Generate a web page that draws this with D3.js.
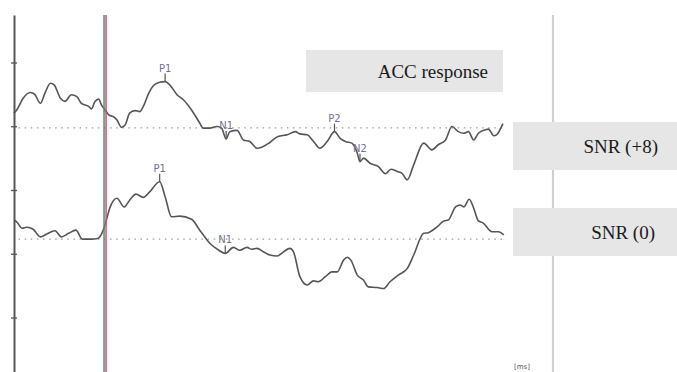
<!DOCTYPE html>
<html><head><meta charset="utf-8">
<script src="https://cdn.jsdelivr.net/npm/d3@7"></script>
<style>html,body{margin:0;padding:0;background:#fff;overflow:hidden;} svg{display:block;}</style>
</head><body>
<script>
// time in ms, amplitude in µV relative to each trace's own baseline
const topTimes = [-100,-97,-90,-82,-77,-71,-66,-60,-56,-49,-44,-37,-31,-26,-18,-15,-11,-7,-4,0,4,9,13,18,22,27,33,38,42,48,53,59,66,71,79,86,95,103,108,115,123,128,133,137,145,152,159,167,172,181,190,200,209,214,222,229,236,244,252,258,264,271,277,280,284,291,300,308,314,321,326,332,339,350,359,366,374,381,388,394,399,405,410,418,421,427,430,437];
const topValues = [0.46,0.56,0.93,1.11,1.04,0.77,1.09,1.40,1.35,0.93,0.83,1.04,0.98,0.77,0.67,0.59,0.83,0.90,0.72,0.56,0.41,0.35,0.25,0.02,0.09,0.46,0.54,0.51,0.67,1.09,1.32,1.42,1.45,1.35,1.04,0.88,0.56,0.20,-0.01,-0.01,0.04,-0.01,-0.35,-0.12,-0.08,-0.38,-0.43,-0.64,-0.61,-0.46,-0.27,-0.22,-0.12,-0.19,-0.22,-0.43,-0.64,-0.43,-0.12,-0.32,-0.43,-0.48,-0.79,-1.06,-0.95,-1.11,-1.21,-1.44,-1.30,-1.37,-1.42,-1.63,-1.16,-0.48,-0.69,-0.53,-0.38,0.04,-0.12,-0.17,-0.12,-0.38,-0.17,-0.06,-0.04,-0.25,-0.22,0.13];
const bottomTimes = [-100,-97,-91,-86,-79,-71,-64,-55,-48,-40,-32,-25,-16,-8,-2,2,5,13,21,27,34,42,49,60,66,73,82,95,104,115,125,132,141,148,156,161,167,174,181,189,196,203,207,214,222,229,234,242,249,255,262,266,270,277,284,289,299,306,313,322,332,339,350,355,365,372,377,385,390,394,400,405,410,415,425,432,438];
const bottomValues = [0.60,0.54,0.34,0.37,0.31,0.07,0.16,0.26,0.07,0.18,0.28,0.00,0.00,0.02,0.28,0.65,0.96,1.28,1.01,1.22,1.41,1.31,1.48,1.80,1.33,0.70,0.72,0.62,0.28,-0.13,-0.35,-0.45,-0.26,-0.35,-0.26,-0.32,-0.29,-0.40,-0.50,-0.53,-0.40,-0.29,-0.40,-1.18,-1.44,-1.31,-1.34,-1.18,-1.03,-1.03,-0.66,-0.57,-0.66,-1.13,-1.29,-1.50,-1.52,-1.55,-1.34,-1.13,-0.92,-0.50,0.18,0.20,0.39,0.57,0.60,1.01,1.07,1.01,1.25,0.96,0.57,0.51,0.23,0.23,0.13];
const traceNames = ["SNR (+8)", "SNR (0)"];
const traceOffsets = [1.95, -1.54];
const peakLabels = ["P1","N1","P2","N2","P1","N1"];
const peakTimes = [66,133,252,280,60,132];
const peakTrace = [0,0,0,0,1,1];
const yTicks = [-4,-2,0,2,4];
const titleText = "ACC response";
const unitText = "[ms]";

const W = 677, H = 372;
const svg = d3.select("body").append("svg").attr("width", W).attr("height", H);

const x = d3.scaleLinear().domain([-100, 492]).range([14, 553]);
const y = d3.scaleLinear().domain([-5.71, 5.49]).range([372, 15]);

const traces = [
  topTimes.map((t,i)=>({t, v: topValues[i]})),
  bottomTimes.map((t,i)=>({t, v: bottomValues[i]}))
];

// dotted baselines
traceOffsets.forEach(off => {
  svg.append("line")
    .attr("x1", x(-95)).attr("x2", x(440))
    .attr("y1", y(off)).attr("y2", y(off))
    .attr("stroke", "#9a9a9a").attr("stroke-width", 1.2)
    .attr("stroke-dasharray", "1.5,4.6");
});

// right frame line
svg.append("line")
  .attr("x1", x(492)).attr("x2", x(492)).attr("y1", 15).attr("y2", H)
  .attr("stroke", "#cfcfcf").attr("stroke-width", 2.2);

// left axis
const axis = d3.axisLeft(y).tickValues(yTicks).tickFormat("").tickSizeInner(3).tickSizeOuter(0);
const ag = svg.append("g").attr("transform", `translate(${x(-100)},0)`).call(axis);
ag.select(".domain").attr("stroke", "#555").attr("stroke-width", 2);
ag.selectAll(".tick line").attr("x1", -3).attr("x2", 3).attr("stroke", "#555").attr("stroke-width", 1.3);

// gray label boxes
const boxes = [
  {x0:306, y0:50, w:197, h:42, text:titleText, tx:488},
  {x0:513, y0:122, w:164, h:48, text:traceNames[0], tx:658},
  {x0:513, y0:208, w:164, h:48, text:traceNames[1], tx:655}
];
boxes.forEach(b => {
  svg.append("rect").attr("x", b.x0).attr("y", b.y0).attr("width", b.w).attr("height", b.h)
    .attr("fill", "#e6e6e6");
  svg.append("text").attr("x", b.tx).attr("y", b.y0 + b.h/2 + 6.5)
    .attr("text-anchor", "end")
    .attr("font-family", "'Liberation Serif','Times New Roman',serif")
    .attr("font-size", 19).attr("fill", "#1a1a1a").text(b.text);
});

// traces
const line = (off) => d3.line().x(d=>x(d.t)).y(d=>y(d.v + off)).curve(d3.curveMonotoneX);
traces.forEach((tr, i) => {
  svg.append("path").datum(tr).attr("d", line(traceOffsets[i]))
    .attr("fill", "none").attr("stroke", "#555").attr("stroke-width", 1.6)
    .attr("stroke-linejoin", "round");
});

// peak markers
peakLabels.forEach((lab, i) => {
  const tr = traces[peakTrace[i]];
  const p = tr.find(d => d.t === peakTimes[i]);
  const px = x(p.t), py = y(p.v + traceOffsets[peakTrace[i]]);
  svg.append("line").attr("x1", px).attr("x2", px).attr("y1", py - 8).attr("y2", py)
    .attr("stroke", "#555").attr("stroke-width", 1.2);
  svg.append("text").attr("x", px).attr("y", py - 10).attr("text-anchor", "middle")
    .attr("font-family", "'DejaVu Sans',Arial,sans-serif").attr("font-size", 10)
    .attr("fill", "#756e92").text(lab);
});

// stimulus onset lines
svg.append("line").attr("x1", x(0)-1).attr("x2", x(0)-1).attr("y1", 15).attr("y2", H)
  .attr("stroke", "#3f9a5c").attr("stroke-width", 1.5);
svg.append("line").attr("x1", x(0)+1).attr("x2", x(0)+1).attr("y1", 15).attr("y2", H)
  .attr("stroke", "#e0457e").attr("stroke-width", 1.5);

// unit label
svg.append("text").attr("x", 514).attr("y", 369)
  .attr("font-family", "'DejaVu Sans',Arial,sans-serif").attr("font-size", 7)
  .attr("fill", "#556").text(unitText);
</script>
</body></html>
